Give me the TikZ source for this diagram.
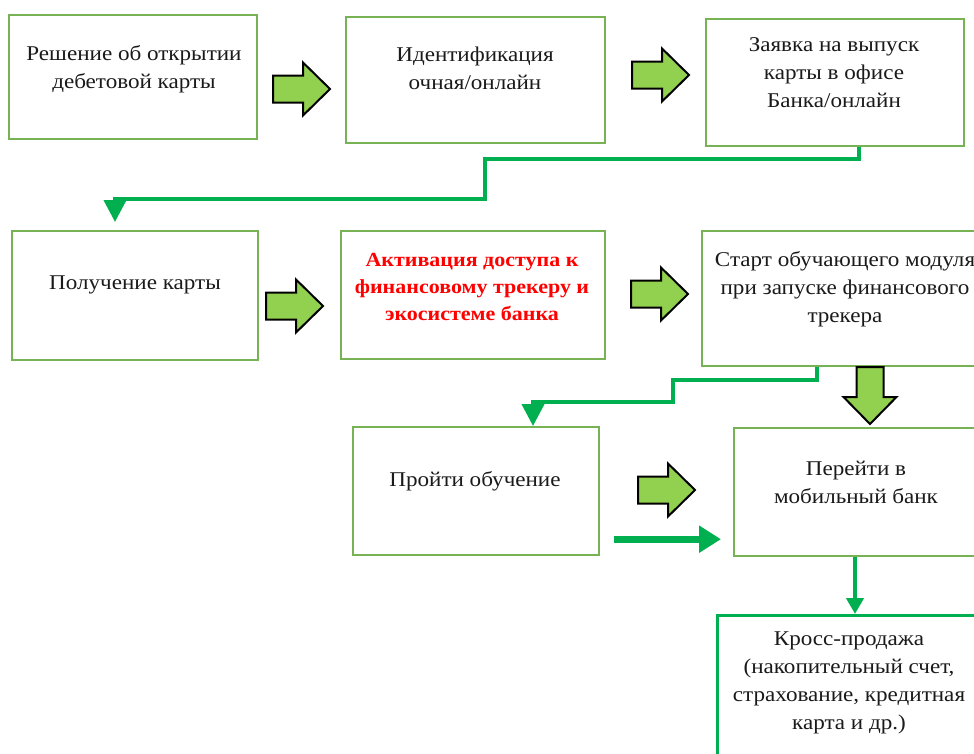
\documentclass[tikz,border=0pt]{standalone}
\usepackage{fontspec}
\setmainfont[FakeStretch=1.1]{Liberation Serif}
\usetikzlibrary{arrows.meta,calc}
\definecolor{boxgreen}{HTML}{77B255}
\definecolor{conngreen}{HTML}{00B050}
\definecolor{arrowfill}{HTML}{92D050}
\definecolor{txtcol}{HTML}{1A1A1A}
\definecolor{redtxt}{HTML}{FF0000}
\begin{document}
\begin{tikzpicture}[x=1pt,y=-1pt,
  box/.style={draw=boxgreen, line width=2.2pt, fill=white, inner sep=0pt, anchor=north west},
  kbox/.style={draw=conngreen, line width=3pt, fill=white, inner sep=0pt, anchor=north west},
  txt/.style={text=txtcol, align=center, font=\fontsize{21}{28}\selectfont, inner sep=0pt},
  redt/.style={text=redtxt, align=center, font=\bfseries\fontsize{20}{27}\selectfont, inner sep=0pt},
  conn/.style={draw=conngreen, line width=4pt, -{Triangle[width=22pt,length=22pt]}},
  thickconn/.style={draw=conngreen, line width=7pt, -{Triangle[width=26pt,length=22pt]}},
  thinconn/.style={draw=conngreen, line width=4.5pt, -{Triangle[width=17pt,length=16pt]}},
  blockarrow/.pic={\draw[fill=arrowfill, draw=black, line width=2pt, line join=miter]
    (0,-13.5) -- (30,-13.5) -- (30,-26.5) -- (57,0) -- (30,26.5) -- (30,13.5) -- (0,13.5) -- cycle;}
]
\useasboundingbox (0,0) rectangle (974,753);
\clip (0,0) rectangle (974,753);
\fill[white] (0,0) rectangle (974,753);

% boxes
\node[box, minimum width=248pt, minimum height=124pt] (b1) at (8,14) {};
\node[box, minimum width=259pt, minimum height=126pt] (b2) at (345,16) {};
\node[box, minimum width=258pt, minimum height=127pt] (b3) at (705,18) {};
\node[box, minimum width=246pt, minimum height=129pt] (b4) at (11,230) {};
\node[box, minimum width=264pt, minimum height=128pt] (b5) at (340,230) {};
\node[box, minimum width=289pt, minimum height=135pt] (b6) at (701,230) {};
\node[box, minimum width=246pt, minimum height=128pt] (b7) at (352,426) {};
\node[box, minimum width=257pt, minimum height=128pt] (b8) at (733,427) {};
\node[kbox, minimum width=274pt, minimum height=156pt] (b9) at (716,614) {};

% texts
\node[txt] (t1) at (134,69) {Решение об открытии\\дебетовой карты};
\node[txt] (t2) at (475,68) {Идентификация\\очная/онлайн};
\node[txt] (t3) at (834,73) {Заявка на выпуск\\карты в офисе\\Банка/онлайн};
\node[txt] (t4) at (135,285) {Получение карты};
\node[redt] (t5) at (472,287) {Активация доступа к\\финансовому трекеру и\\экосистеме банка};
\node[txt] (t6) at (845,289) {Старт обучающего модуля\\при запуске финансового\\трекера};
\node[txt] (t7) at (475,481) {Пройти обучение};
\node[txt] (t8) at (856,482) {Перейти в\\мобильный банк};
\node[txt] (t9) at (849,683) {Кросс-продажа\\(накопительный счет,\\страхование, кредитная\\карта и др.)};

% block arrows
\pic at (273,89) {blockarrow};
\pic at (632,75) {blockarrow};
\pic at (266,306) {blockarrow};
\pic at (631,294) {blockarrow};
\pic at (638,490) {blockarrow};
\pic[rotate=-90] at (870,367) {blockarrow};

% connectors
\draw[conn] ($(b3.south west)+(154,0)$) -- ++(0,12) -| (485,199) -| ($(b4.north west)+(104,-8)$);
\draw[conn] ($(b6.south west)+(116,0)$) -- ++(0,13) -| (673,402) -| ($(b7.north west)+(181,0)$);
\draw[thickconn] ($(b7.south east)+(14,-17)$) -- ($(b8.south west)+(-12,-18)$);
\draw[thinconn] ($(b8.south west)+(122,0)$) -- ($(b9.north west)+(139,0)$);
\end{tikzpicture}
\end{document}
